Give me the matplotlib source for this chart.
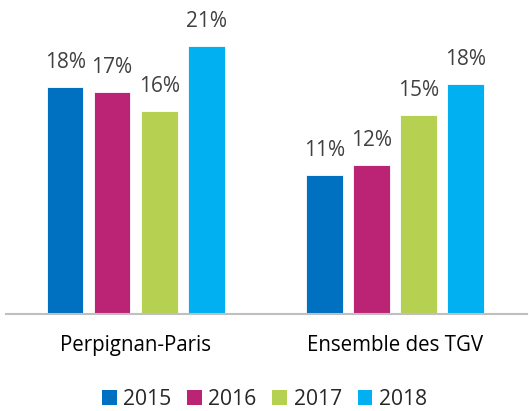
import matplotlib.pyplot as plt
from matplotlib.patches import Patch
import numpy as np

plt.rcParams['font.family'] = ['Open Sans', 'DejaVu Sans']

categories = ['Perpignan-Paris', 'Ensemble des TGV']
years = ['2015', '2016', '2017', '2018']
values = {
    '2015': [17.8, 10.9],
    '2016': [17.4, 11.7],
    '2017': [15.9, 15.6],
    '2018': [21.0, 18.0],
}
labels = {
    '2015': ['18%', '11%'],
    '2016': ['17%', '12%'],
    '2017': ['16%', '15%'],
    '2018': ['21%', '18%'],
}
colors = ['#0070C0', '#BB2375', '#B6D052', '#00B0F0']

fig = plt.figure(figsize=(5.29, 4.11), dpi=100)
ax = fig.add_axes([6/529, 97/411, 521/529, 314/411])

x = np.arange(len(categories))
pitch = 0.1814
width = 0.142
for i, yr in enumerate(years):
    pos = x + (i - 1.5) * pitch
    bars = ax.bar(pos, values[yr], width, color=colors[i], edgecolor='white', linewidth=0.6)
    for b, lab in zip(bars, labels[yr]):
        ax.annotate(lab, (b.get_x() + b.get_width()/2, b.get_height()),
                    xytext=(0, 13.5), textcoords='offset points',
                    ha='center', va='baseline', fontsize=15, color='#404040')

ax.set_xlim(-0.5, 1.51)
ax.set_ylim(0, 24.6)
for s in ['top', 'right', 'left']:
    ax.spines[s].set_visible(False)
ax.spines['bottom'].set_color('#BFBFBF')
ax.spines['bottom'].set_linewidth(1.5)
ax.set_yticks([])
ax.set_xticks(x)
ax.set_xticklabels(categories, fontsize=14.8, color='black')
ax.tick_params(axis='x', length=0, pad=15)

handles = [Patch(facecolor=c, edgecolor='none') for c in colors]
fig.legend(handles, years, loc='center', bbox_to_anchor=(0.5, 12/411), ncol=4,
           frameon=False, fontsize=15.2, handlelength=0.7, handleheight=0.7,
           handletextpad=0.3, columnspacing=0.75, labelcolor='#262626')

fig.savefig('out.png', dpi=100)
plt.close(fig)
